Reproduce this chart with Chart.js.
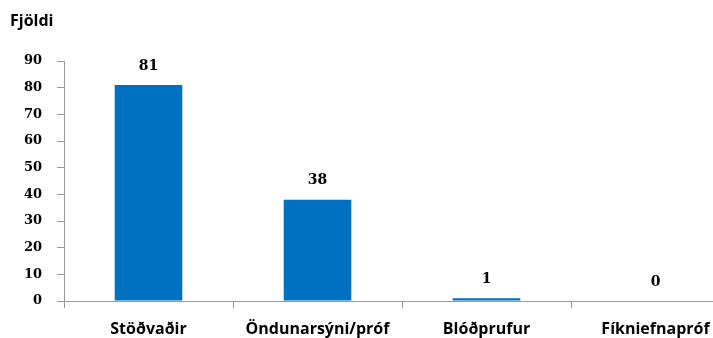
<!DOCTYPE html>
<html>
<head>
<meta charset="utf-8">
<script src="https://cdn.jsdelivr.net/npm/chart.js@4/dist/chart.umd.min.js"></script>
<style>
  html, body { margin: 0; padding: 0; background: #fff; overflow: hidden; }
  #wrap { width: 740px; height: 338px; }
</style>
</head>
<body>
<div id="wrap"><canvas id="chart" width="740" height="338"></canvas></div>
<script>
// chart data
const categories = ['Stöðvaðir', 'Öndunarsýni/próf', 'Blóðprufur', 'Fíkniefnapróf'];
const counts = [81, 38, 1, 0];
const yTitle = 'Fjöldi';

const axisGray = '#999999';
const barBlue = '#0070C0';

// draws the value above each bar and the axis title in the corner
const labelPlugin = {
  id: 'labels',
  afterDatasetsDraw(chart) {
    const ctx = chart.ctx;
    const meta = chart.getDatasetMeta(0);
    ctx.save();
    ctx.fillStyle = '#000';
    ctx.font = 'bold 14px "DejaVu Serif"';
    ctx.textAlign = 'center';
    ctx.textBaseline = 'middle';
    meta.data.forEach((bar, i) => {
      ctx.fillText(String(counts[i]), bar.x, bar.y - 19);
    });
    ctx.font = 'bold 16px "Open Sans"';
    ctx.textAlign = 'left';
    ctx.fillText(yTitle, 10, 21);
    ctx.restore();
  }
};

new Chart(document.getElementById('chart'), {
  type: 'bar',
  data: {
    labels: categories,
    datasets: [{
      data: counts,
      backgroundColor: barBlue,
      borderWidth: 0,
      categoryPercentage: 1.0,
      barPercentage: 0.4
    }]
  },
  options: {
    responsive: false,
    animation: false,
    layout: { padding: { top: 61, right: 0, bottom: 0, left: 0 } },
    plugins: {
      legend: { display: false },
      title: { display: false },
      tooltip: { enabled: false }
    },
    scales: {
      x: {
        afterFit(scale) { scale.height = 37; },
        grid: {
          offset: true,
          drawOnChartArea: false,
          tickLength: 7,
          color: axisGray
        },
        border: { color: axisGray },
        ticks: {
          color: '#000',
          padding: 12,
          font: { family: 'Open Sans', size: 16, weight: 'bold' }
        }
      },
      y: {
        min: 0,
        max: 90,
        afterFit(scale) { scale.width = 64; },
        grid: {
          drawOnChartArea: false,
          tickLength: 7,
          color: axisGray
        },
        border: { color: axisGray },
        ticks: {
          stepSize: 10,
          color: '#000',
          padding: 15,
          font: { family: 'DejaVu Serif', size: 13, weight: 'bold' }
        }
      }
    }
  },
  plugins: [labelPlugin]
});
</script>
</body>
</html>
